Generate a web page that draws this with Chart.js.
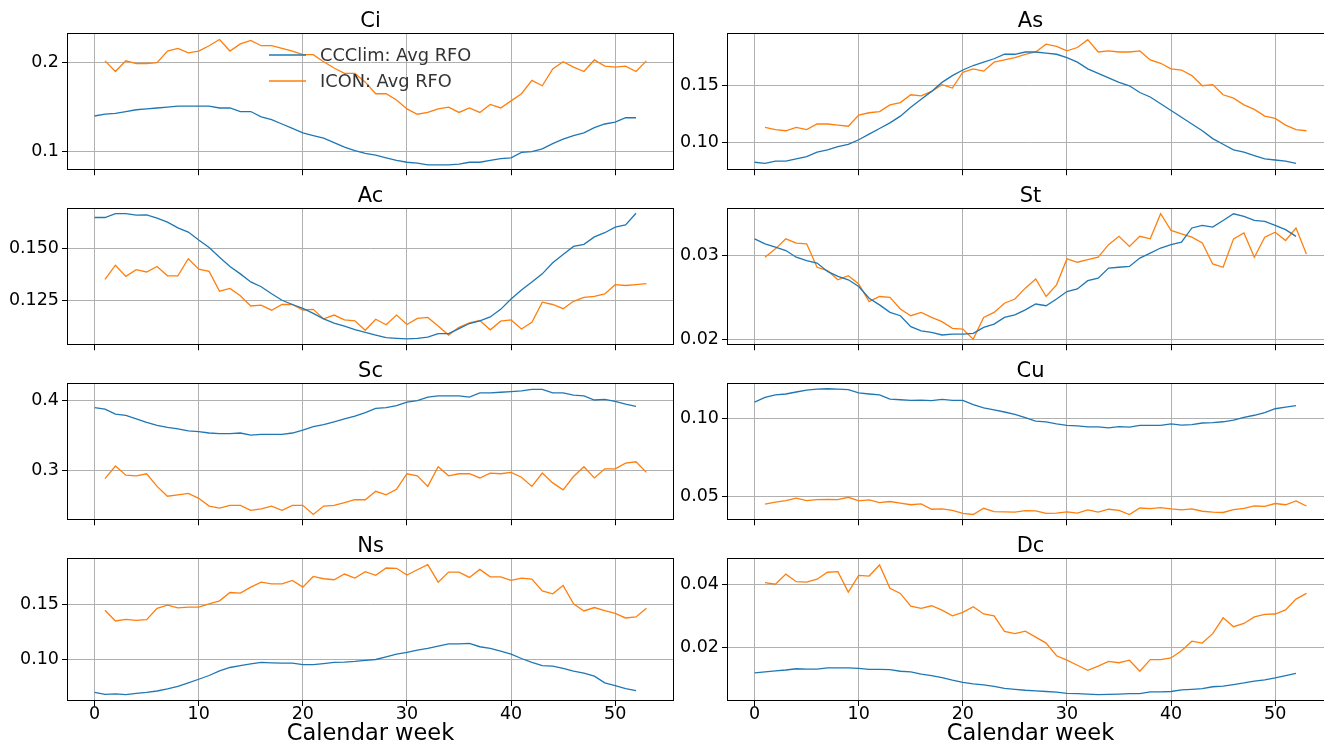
<!DOCTYPE html>
<html>
<head>
<meta charset="utf-8">
<script src="https://cdn.jsdelivr.net/npm/chart.js@4.4.1/dist/chart.umd.min.js"></script>
<style>
html, body { margin: 0; padding: 0; background: #fff; overflow: hidden; width: 1324px; height: 745px; }
canvas { position: absolute; }
</style>
</head>
<body>
<div id="charts"></div>
<script>
// calendar weeks
var weeksCCClim = [0,1,2,3,4,5,6,7,8,9,10,11,12,13,14,15,16,17,18,19,20,21,22,23,24,25,26,27,28,29,30,31,32,33,34,35,36,37,38,39,40,41,42,43,44,45,46,47,48,49,50,51,52];
var weeksICON = [1,2,3,4,5,6,7,8,9,10,11,12,13,14,15,16,17,18,19,20,21,22,23,24,25,26,27,28,29,30,31,32,33,34,35,36,37,38,39,40,41,42,43,44,45,46,47,48,49,50,51,52,53];

var panelNames = ["Ci", "As", "Ac", "St", "Sc", "Cu", "Ns", "Dc"];
var seriesNames = ["CCClim: Avg RFO", "ICON: Avg RFO"];

var ciCCClim = [.140,.142,.143,.145,.147,.148,.149,.150,.151,.151,.151,.151,.149,.149,.145,.145,.139,.136,.131,.126,.121,.118,.115,.110,.105,.101,.098,.096,.093,.090,.088,.087,.085,.085,.085,.086,.088,.088,.090,.092,.093,.099,.100,.103,.109,.114,.118,.121,.127,.131,.133,.138,.138];
var ciICON = [.202,.190,.202,.199,.199,.200,.213,.216,.211,.213,.219,.226,.213,.221,.225,.219,.219,.216,.213,.209,.209,.201,.194,.188,.188,.178,.165,.165,.158,.148,.142,.144,.148,.150,.144,.149,.144,.153,.149,.157,.165,.180,.174,.193,.201,.195,.190,.203,.196,.195,.196,.190,.202];

var asCCClim = [.082,.081,.083,.083,.085,.087,.091,.093,.096,.098,.102,.107,.112,.117,.123,.131,.138,.145,.153,.159,.164,.168,.171,.174,.178,.178,.180,.180,.179,.178,.175,.171,.165,.161,.157,.153,.150,.144,.140,.134,.128,.122,.116,.110,.103,.098,.093,.091,.088,.085,.084,.083,.081];
var asICON = [.113,.111,.110,.113,.111,.116,.116,.115,.114,.124,.126,.127,.133,.135,.142,.141,.145,.151,.148,.162,.165,.163,.171,.173,.175,.178,.180,.187,.185,.181,.184,.191,.180,.181,.180,.180,.181,.173,.170,.165,.164,.159,.150,.151,.142,.139,.133,.129,.123,.121,.115,.111,.110];

var acCCClim = [.1645,.1645,.1663,.1663,.1656,.1657,.1642,.1623,.1596,.1576,.1538,.1503,.1457,.1413,.1378,.1340,.1317,.1284,.1253,.1233,.1215,.1191,.1165,.1145,.1130,.1114,.1101,.1088,.1076,.1073,.1070,.1073,.1078,.1095,.1095,.1119,.1143,.1156,.1174,.1210,.1259,.1302,.1340,.1378,.1431,.1470,.1508,.1518,.1553,.1573,.1599,.1610,.1665];
var acICON = [.1352,.1419,.1366,.1398,.1387,.1413,.1369,.1369,.1450,.1400,.1390,.1296,.1309,.1274,.1226,.1230,.1206,.1233,.1233,.1207,.1210,.1165,.1183,.1160,.1156,.1111,.1163,.1137,.1183,.1138,.1167,.1172,.1131,.1088,.1125,.1146,.1157,.1113,.1154,.1160,.1117,.1149,.1244,.1233,.1213,.1248,.1267,.1271,.1283,.1327,.1323,.1327,.1332];

var stCCClim = [.0320,.0314,.0310,.0306,.0298,.0294,.0291,.0281,.0275,.0271,.0263,.0249,.0241,.0232,.0228,.0215,.0210,.0208,.0205,.0206,.0206,.0207,.0214,.0218,.0226,.0229,.0235,.0242,.0240,.0248,.0257,.0260,.0270,.0273,.0285,.0286,.0287,.0297,.0303,.0309,.0313,.0316,.0333,.0336,.0334,.0342,.0350,.0347,.0342,.0341,.0336,.0331,.0323];
var stICON = [.0298,.0308,.0320,.0315,.0314,.0286,.0282,.0271,.0276,.0266,.0245,.0251,.0250,.0236,.0228,.0232,.0226,.0221,.0213,.0212,.0200,.0226,.0232,.0243,.0248,.0261,.0272,.0251,.0265,.0296,.0292,.0295,.0298,.0313,.0323,.0311,.0323,.0320,.0350,.0330,.0326,.0322,.0315,.0290,.0286,.0320,.0327,.0298,.0322,.0328,.0318,.0333,.0302];

var scCCClim = [.390,.388,.381,.379,.374,.369,.365,.362,.360,.357,.356,.354,.353,.353,.354,.351,.352,.352,.352,.354,.358,.363,.366,.370,.374,.378,.383,.389,.390,.393,.398,.400,.405,.407,.407,.407,.405,.411,.411,.412,.413,.414,.416,.416,.411,.411,.408,.407,.401,.402,.399,.395,.392];
var scICON = [.289,.307,.294,.293,.296,.278,.264,.266,.268,.261,.250,.247,.251,.251,.244,.246,.250,.244,.251,.251,.238,.250,.251,.255,.259,.259,.271,.266,.274,.296,.293,.278,.306,.293,.296,.296,.290,.297,.296,.298,.291,.278,.297,.283,.273,.292,.306,.290,.303,.303,.311,.313,.298];

var cuCCClim = [.1108,.1138,.1154,.1160,.1173,.1185,.1192,.1194,.1192,.1188,.1167,.1160,.1154,.1127,.1123,.1119,.1121,.1117,.1125,.1119,.1119,.1092,.1071,.1058,.1044,.1029,.1008,.0985,.0981,.0967,.0958,.0954,.0948,.0948,.0942,.0950,.0946,.0958,.0958,.0958,.0967,.0960,.0963,.0973,.0975,.0981,.0992,.1010,.1023,.1040,.1065,.1075,.1085];
var cuICON = [.0450,.0463,.0473,.0488,.0473,.0479,.0481,.0479,.0494,.0471,.0477,.0460,.0467,.0456,.0446,.0452,.0417,.0419,.0410,.0390,.0383,.0423,.0402,.0400,.0398,.0408,.0406,.0390,.0392,.0400,.0392,.0413,.0398,.0417,.0410,.0383,.0425,.0421,.0427,.0419,.0413,.0419,.0404,.0398,.0396,.0415,.0423,.0438,.0435,.0454,.0446,.0471,.0438];

var nsCCClim = [.0701,.0683,.0686,.0680,.0692,.0701,.0713,.0732,.0756,.0787,.0820,.0854,.0896,.0927,.0945,.0960,.0973,.0970,.0966,.0966,.0954,.0954,.0963,.0973,.0976,.0982,.0991,.1000,.1024,.1049,.1064,.1085,.1101,.1122,.1143,.1143,.1146,.1116,.1101,.1076,.1049,.1009,.0973,.0945,.0939,.0918,.0893,.0875,.0848,.0787,.0762,.0735,.0716];
var nsICON = [.1448,.1351,.1366,.1357,.1363,.1466,.1494,.1470,.1476,.1476,.1506,.1534,.1610,.1604,.1659,.1704,.1689,.1689,.1720,.1659,.1756,.1735,.1726,.1778,.1741,.1799,.1766,.1833,.1830,.1769,.1817,.1863,.1704,.1796,.1796,.1747,.1820,.1753,.1753,.1720,.1741,.1732,.1625,.1598,.1674,.1506,.1442,.1473,.1445,.1420,.1378,.1387,.1466];

var dcCCClim = [.0120,.0123,.0126,.0129,.0133,.0132,.0132,.0136,.0136,.0136,.0134,.0131,.0131,.0130,.0125,.0123,.0116,.0111,.0105,.0097,.0090,.0085,.0082,.0077,.0071,.0068,.0065,.0063,.0061,.0059,.0055,.0054,.0053,.0051,.0052,.0053,.0054,.0054,.0060,.0060,.0061,.0066,.0068,.0070,.0076,.0078,.0083,.0088,.0094,.0098,.0104,.0111,.0118];
var dcICON = [.0405,.0400,.0432,.0408,.0407,.0416,.0438,.0440,.0375,.0428,.0426,.0461,.0387,.0371,.0331,.0324,.0332,.0318,.0300,.0311,.0329,.0306,.0300,.0251,.0244,.0252,.0233,.0214,.0174,.0160,.0144,.0128,.0141,.0156,.0152,.0160,.0125,.0162,.0162,.0167,.0190,.0220,.0214,.0244,.0294,.0266,.0276,.0297,.0305,.0306,.0319,.0353,.0371];

var ccclimSeries = [ciCCClim, asCCClim, acCCClim, stCCClim, scCCClim, cuCCClim, nsCCClim, dcCCClim];
var iconSeries = [ciICON, asICON, acICON, stICON, scICON, cuICON, nsICON, dcICON];

// y axis ranges and ticks per panel
var yMin = [0.0790, 0.0749, 0.1040, 0.01927, 0.2298, 0.0346, 0.0622, 0.0031];
var yMax = [0.2333, 0.1969, 0.1690, 0.03569, 0.4252, 0.1231, 0.1924, 0.0483];
var yTickValues = [[0.1, 0.2], [0.10, 0.15], [0.125, 0.150], [0.02, 0.03], [0.3, 0.4], [0.05, 0.10], [0.10, 0.15], [0.02, 0.04]];
var yTickLabels = [["0.1", "0.2"], ["0.10", "0.15"], ["0.125", "0.150"], ["0.02", "0.03"], ["0.3", "0.4"], ["0.05", "0.10"], ["0.10", "0.15"], ["0.02", "0.04"]];

var xTickValues = [0, 10, 20, 30, 40, 50];
var xTickLabels = ["0", "10", "20", "30", "40", "50"];
var xTitle = "Calendar week";

var blue = "#1f77b4";
var orange = "#ff7f0e";
var fontName = "DejaVu Sans";

function toPoints(xs, ys) {
	var pts = [];
	for (var i = 0; i < ys.length; i++) {
		pts.push({ x: xs[i], y: ys[i] });
	}
	return pts;
}

// draws the black box round the plot and, for the first panel, the legend
var framePlugin = {
	id: "frame",
	afterDraw: function(chart, args, opts) {
		var ctx = chart.ctx;
		var a = chart.chartArea;
		ctx.save();
		ctx.strokeStyle = "#000";
		ctx.lineWidth = 1;
		ctx.strokeRect(Math.round(a.left) + 0.5, Math.round(a.top) + 0.5, Math.round(a.right - a.left) - 1, Math.round(a.bottom - a.top) - 1);
		if (opts.legend) {
			var rows = [[blue, seriesNames[0], 22], [orange, seriesNames[1], 48]];
			ctx.font = "17.8px '" + fontName + "'";
			ctx.textBaseline = "middle";
			ctx.fillStyle = "#333";
			for (var i = 0; i < rows.length; i++) {
				var y = a.top + rows[i][2];
				ctx.strokeStyle = rows[i][0];
				ctx.lineWidth = 1.3;
				ctx.beginPath();
				ctx.moveTo(a.left + 202, y);
				ctx.lineTo(a.left + 239, y);
				ctx.stroke();
				ctx.fillText(rows[i][1], a.left + 253, y + 1);
			}
		}
		ctx.restore();
	}
};

function makePanel(i) {
	var col = i % 2;
	var row = Math.floor(i / 2);
	var isBottom = row === 3;
	var yAxisWidth = col === 0 ? 67 : 57;
	var plotWidth = 607;
	var plotHeight = 143;
	var titleSpace = 33;
	var xAxisHeight = isBottom ? 44 : 6;

	var canvas = document.createElement("canvas");
	canvas.width = yAxisWidth + plotWidth;
	canvas.height = titleSpace + plotHeight + xAxisHeight;
	canvas.style.left = (col === 0 ? 0 : 670) + "px";
	canvas.style.top = (row * 175) + "px";
	canvas.style.width = canvas.width + "px";
	canvas.style.height = canvas.height + "px";
	document.getElementById("charts").appendChild(canvas);

	new Chart(canvas, {
		type: "line",
		data: {
			datasets: [{
				label: seriesNames[0],
				data: toPoints(weeksCCClim, ccclimSeries[i]),
				borderColor: blue,
				borderWidth: 1.3,
				pointRadius: 0,
				fill: false
			}, {
				label: seriesNames[1],
				data: toPoints(weeksICON, iconSeries[i]),
				borderColor: orange,
				borderWidth: 1.3,
				pointRadius: 0,
				fill: false
			}]
		},
		options: {
			responsive: false,
			animation: false,
			devicePixelRatio: 1,
			layout: { padding: 0 },
			plugins: {
				legend: { display: false },
				tooltip: { enabled: false },
				title: {
					display: true,
					fullSize: false,
					text: panelNames[i],
					color: "#000",
					font: { family: fontName, size: 21, weight: "normal", lineHeight: 1 },
					padding: { top: 11, bottom: 1 }
				},
				frame: { legend: i === 0 }
			},
			scales: {
				x: {
					type: "linear",
					min: -2.65,
					max: 55.65,
					afterBuildTicks: function(scale) {
						scale.ticks = xTickValues.map(function(v) { return { value: v }; });
					},
					afterFit: function(scale) { scale.height = xAxisHeight; },
					grid: { color: "#b0b0b0", lineWidth: 1, tickColor: "#000", tickWidth: 1, tickLength: 5 },
					border: { display: false },
					ticks: {
						display: isBottom,
						color: "#000",
						padding: 0,
						maxRotation: 0,
						font: { family: fontName, size: 17.5, lineHeight: 1 },
						callback: function(value, index) { return xTickLabels[index]; }
					},
					title: {
						display: isBottom,
						text: xTitle,
						color: "#000",
						font: { family: fontName, size: 22.5, lineHeight: 1 },
						padding: { top: 0, bottom: 0 }
					}
				},
				y: {
					min: yMin[i],
					max: yMax[i],
					afterBuildTicks: function(scale) {
						scale.ticks = yTickValues[i].map(function(v) { return { value: v }; });
					},
					afterFit: function(scale) { scale.width = yAxisWidth; },
					grid: { color: "#b0b0b0", lineWidth: 1, tickColor: "#000", tickWidth: 1, tickLength: 5 },
					border: { display: false },
					ticks: {
						color: "#000",
						padding: 3,
						font: { family: fontName, size: 17.5, lineHeight: 1 },
						callback: function(value, index) { return yTickLabels[i][index]; }
					}
				}
			}
		},
		plugins: [framePlugin]
	});
}

for (var p = 0; p < panelNames.length; p++) {
	makePanel(p);
}
</script>
</body>
</html>
